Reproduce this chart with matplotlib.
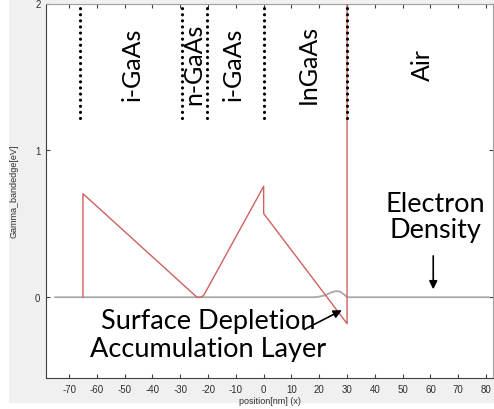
import matplotlib.pyplot as plt
from matplotlib.patches import Rectangle

plt.rcParams['axes.unicode_minus'] = False

# Band edge profile (Gamma band edge, eV) vs position (nm)
band_x = [-65, -65, -24, -22.5, -21.5, 0, 0, 30, 30]
band_y = [0.0, 0.705, 0.0, 0.0, 0.015, 0.755, 0.57, -0.18, 2.0]

# Electron density trace (grey)
dens_x = [-75, 18, 20, 22, 24, 26, 27.5, 29, 30, 81]
dens_y = [0.0, 0.0, 0.004, 0.012, 0.03, 0.042, 0.038, 0.018, 0.0, 0.0]

# Layer boundaries (dotted) and layer names
boundaries = [-66, -29.5, -20.5, 0, 30]
layer_names = ["i-GaAs", "n-GaAs", "i-GaAs", "InGaAs", "Air"]
layer_pos = [-47.4, -25.2, -11.0, 16.0, 57.2]

xticks = list(range(-70, 81, 10))
yticks = [0, 1, 2]

fig = plt.figure(figsize=(4.94, 4.10), dpi=100)
fig.set_facecolor("white")
# grey window background like the original screenshot
fig.patches.append(Rectangle((9 / 494, 6 / 410), 1.0, 1.0, transform=fig.transFigure,
                             facecolor="#f0f0f0", edgecolor="none", zorder=-10))

ax = fig.add_axes([46 / 494, 31 / 410, 447 / 494, 374.5 / 410])
ax.set_xlim(-78.3, 82.5)
ax.set_ylim(-0.55, 2.0)

ax.plot(dens_x, dens_y, color="#a8a8a8", lw=1.3, zorder=2)
ax.plot(band_x, band_y, color="#d06060", lw=1.0, zorder=3)

for b in boundaries:
    ax.plot([b, b], [1.22, 2.0], color="black", lw=2.3,
            linestyle=(0, (0.01, 1.9)), dash_capstyle="round", zorder=4)

for name, xpos in zip(layer_names, layer_pos):
    ax.text(xpos, 1.59, name, rotation=90, ha="center", va="center",
            family="Lato", fontsize=18, color="black")

big = dict(family="Lato", fontsize=19.5, color="black")
ax.text(61.8, 0.55, "Electron\nDensity", ha="center", va="center",
        linespacing=1.08, **big)
ax.annotate("", xy=(61, 0.035), xytext=(61, 0.30),
            arrowprops=dict(arrowstyle="-|>", color="black", lw=1.2,
                            mutation_scale=12))

ax.text(-20, -0.255, "Surface Depletion\nAccumulation Layer", ha="center",
        va="center", linespacing=1.12, **big)
ax.annotate("", xy=(29, -0.08), xytext=(13.7, -0.228),
            arrowprops=dict(arrowstyle="-|>", color="black", lw=1.2,
                            mutation_scale=12))

ax.set_xticks(xticks)
ax.set_yticks(yticks)
ax.tick_params(direction="in", top=True, right=True, length=3, width=0.8,
               labelsize=7, labelcolor="#303030", color="#404040", pad=4)
for lbl in ax.get_xticklabels() + ax.get_yticklabels():
    lbl.set_family("Liberation Sans")
for side in ["left", "bottom"]:
    ax.spines[side].set_color("#404040")
for side in ["top", "right"]:
    ax.spines[side].set_color("#a0a0a0")

ax.set_xlabel("position[nm] (x)", fontsize=6.5, family="Liberation Sans",
              color="#303030", labelpad=2)
ax.set_ylabel("Gamma_bandedge[eV]", fontsize=6.5, family="Liberation Sans",
              color="#303030", labelpad=12)

fig.savefig("out.png", dpi=100, facecolor=fig.get_facecolor())
